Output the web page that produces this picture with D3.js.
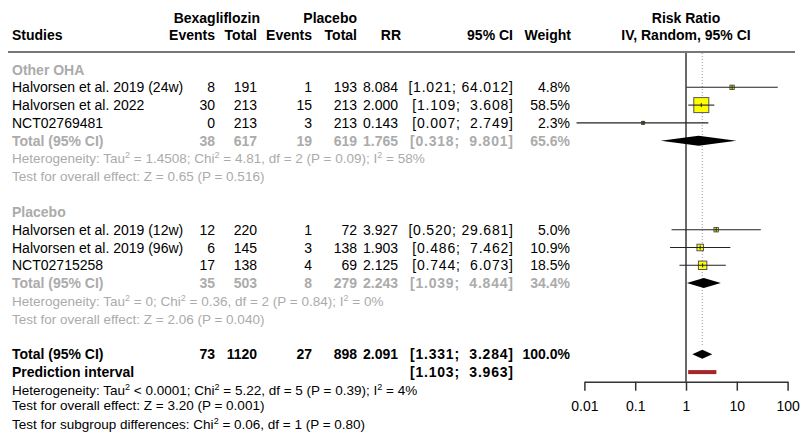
<!DOCTYPE html>
<html><head><meta charset="utf-8">
<script src="https://cdn.jsdelivr.net/npm/d3@7"></script>
<style>
html,body{margin:0;padding:0;background:#fff;}
svg text{font-family:"Liberation Sans",Arial,Helvetica,sans-serif;white-space:pre;}
</style></head>
<body>
<svg id="chart" width="800" height="435"></svg>
<script>
// ---- data ----
const groups = ["Other OHA", "Placebo"];
const studies = ["Halvorsen et al. 2019 (24w)", "Halvorsen et al. 2022", "NCT02769481",
                 "Halvorsen et al. 2019 (12w)", "Halvorsen et al. 2019 (96w)", "NCT02715258"];
const studyGroup = [0, 0, 0, 1, 1, 1];
const eventsE = [8, 30, 0, 12, 6, 17];
const totalE  = [191, 213, 213, 220, 145, 138];
const eventsC = [1, 15, 3, 1, 3, 4];
const totalC  = [193, 213, 213, 72, 138, 69];
const rr      = [8.084, 2.000, 0.143, 3.927, 1.903, 2.125];
const lower   = [1.021, 1.109, 0.007, 0.520, 0.486, 0.744];
const upper   = [64.012, 3.608, 2.749, 29.681, 7.462, 6.073];
const weight  = [4.8, 58.5, 2.3, 5.0, 10.9, 18.5];

const subEventsE = [38, 35], subTotalE = [617, 503], subEventsC = [19, 8], subTotalC = [619, 279];
const subRR = [1.765, 2.243], subLower = [0.318, 1.039], subUpper = [9.801, 4.844], subWeight = [65.6, 34.4];
const subHet = ["Heterogeneity: Tau^2 = 1.4508; Chi^2 = 4.81, df = 2 (P = 0.09); I^2 = 58%",
                "Heterogeneity: Tau^2 = 0; Chi^2 = 0.36, df = 2 (P = 0.84); I^2 = 0%"];
const subTest = ["Test for overall effect: Z = 0.65 (P = 0.516)",
                 "Test for overall effect: Z = 2.06 (P = 0.040)"];

const totEventsE = 73, totTotalE = 1120, totEventsC = 27, totTotalC = 898;
const totRR = 2.091, totLower = 1.331, totUpper = 3.284, totWeight = 100.0;
const predLower = 1.103, predUpper = 3.963;
const totHet = "Heterogeneity: Tau^2 < 0.0001; Chi^2 = 5.22, df = 5 (P = 0.39); I^2 = 4%";
const totTest = "Test for overall effect: Z = 3.20 (P = 0.001)";
const subgroupTest = "Test for subgroup differences: Chi^2 = 0.06, df = 1 (P = 0.80)";

const axisTicks = [0.01, 0.1, 1, 10, 100];
const axisTickLabels = ["0.01", "0.1", "1", "10", "100"];

// ---- layout ----
const svg = d3.select("#chart");
const x = d3.scaleLog().domain([0.01, 100]).range([584.4, 787.6]);
const rowY = i => 69.5 + 17.8 * i;
const side = d3.scaleSqrt().domain([0, 58.5]).range([0, 15]);
const GREY = "#ababab";
const FS = 14;

const col = {study: 12, evE: 215, totE: 257, evC: 312, totC: 357, rr: 398, ci: 513, w: 570};

function txt(xp, y, s, opt = {}) {
  const t = svg.append("text")
    .attr("x", xp).attr("y", y).attr("dy", "0.36em")
    .attr("text-anchor", opt.anchor || "start")
    .attr("font-size", opt.size || FS)
    .attr("font-weight", opt.bold ? "bold" : "normal")
    .attr("fill", opt.color || "#000")
    .text(s);
  if (opt.ls) t.attr("letter-spacing", opt.ls);
  return t;
}
function supText(xp, y, s, opt = {}) {
  const t = svg.append("text").attr("x", xp).attr("y", y).attr("dy", "0.36em")
    .attr("font-size", opt.size || 13.5).attr("fill", opt.color || "#000");
  const parts = s.split("^2");
  parts.forEach((p, i) => {
    if (i > 0) {
      t.append("tspan").attr("dy", -5).attr("font-size", 9).text("2");
      t.append("tspan").attr("dy", 5).text(p);
    } else t.append("tspan").text(p);
  });
}
const fmt3 = d3.format(".3f");
const NB = "\u00A0";
const padLeft = (s, w) => NB.repeat(Math.max(0, w - s.length)) + s;
function ciRow(y, lo, up, opt) {
  const s = "[" + padLeft(fmt3(lo), 5) + ";" + NB + padLeft(fmt3(up), 6) + "]";
  txt(col.ci + 0.8, y, s, Object.assign({anchor: "end", ls: 0.8}, opt));
}
function numRow(y, vals, opt) {
  const keys = ["evE", "totE", "evC", "totC", "rr"];
  vals.forEach((v, i) => { if (v !== null) txt(col[keys[i]], y, v, Object.assign({anchor: "end"}, opt)); });
}

// ---- header ----
txt(260, 17.5, "Bexagliflozin", {anchor: "end", bold: true});
txt(357, 17.5, "Placebo", {anchor: "end", bold: true});
txt(col.study, 35, "Studies", {bold: true});
txt(col.evE, 35, "Events", {anchor: "end", bold: true});
txt(col.totE, 35, "Total", {anchor: "end", bold: true});
txt(col.evC, 35, "Events", {anchor: "end", bold: true});
txt(col.totC, 35, "Total", {anchor: "end", bold: true});
txt(401, 35, "RR", {anchor: "end", bold: true});
txt(col.ci, 35, "95% CI", {anchor: "end", bold: true});
txt(col.w + 1, 35, "Weight", {anchor: "end", bold: true});
txt(x(1), 17.5, "Risk Ratio", {anchor: "middle", bold: true});
txt(x(1), 35, "IV, Random, 95% CI", {anchor: "middle", bold: true});
svg.append("line").attr("x1", 8).attr("x2", 795).attr("y1", 52).attr("y2", 52)
  .attr("stroke", "#777").attr("stroke-width", 2);

// ---- reference lines ----
const axisY = 381.7;
svg.append("line").attr("x1", x(totRR)).attr("x2", x(totRR)).attr("y1", 53).attr("y2", 347)
  .attr("stroke", "#999").attr("stroke-width", 1).attr("stroke-dasharray", "1,2");
svg.append("line").attr("x1", x(1)).attr("x2", x(1)).attr("y1", 53).attr("y2", axisY)
  .attr("stroke", "#444").attr("stroke-width", 1.6);

// ---- groups ----
function diamond(y, est, lo, up, h, color) {
  const pts = [[x(lo), y], [x(est), y - h / 2], [x(up), y], [x(est), y + h / 2]];
  svg.append("polygon").attr("points", pts.map(p => p.join(",")).join(" ")).attr("fill", color || "#000");
}

groups.forEach((g, gi) => {
  const base = gi * 8;
  txt(col.study, rowY(base), g, {bold: true, color: GREY});
  const idx = studies.map((s, i) => i).filter(i => studyGroup[i] === gi);
  idx.forEach((si, k) => {
    const y = rowY(base + 1 + k);
    txt(col.study, y, studies[si]);
    numRow(y, [eventsE[si], totalE[si], eventsC[si], totalC[si], fmt3(rr[si])], {});
    ciRow(y, lower[si], upper[si], {});
    txt(col.w, y, weight[si].toFixed(1) + "%", {anchor: "end"});
    // marks
    const s = side(weight[si]);
    svg.append("rect").attr("x", x(rr[si]) - s / 2).attr("y", y - s / 2)
      .attr("width", s).attr("height", s)
      .attr("fill", "#ffff00").attr("stroke", "#555").attr("stroke-width", 1);
    svg.append("line").attr("x1", x(lower[si])).attr("x2", x(upper[si])).attr("y1", y).attr("y2", y)
      .attr("stroke", "#222").attr("stroke-width", 1.1);
    svg.append("line").attr("x1", x(rr[si])).attr("x2", x(rr[si])).attr("y1", y - 2).attr("y2", y + 2)
      .attr("stroke", "#222").attr("stroke-width", 1);
  });
  const ty = rowY(base + 4);
  const o = {bold: true, color: GREY};
  txt(col.study, ty, "Total (95% CI)", o);
  numRow(ty, [subEventsE[gi], subTotalE[gi], subEventsC[gi], subTotalC[gi], fmt3(subRR[gi])], o);
  ciRow(ty, subLower[gi], subUpper[gi], o);
  txt(col.w, ty, subWeight[gi].toFixed(1) + "%", Object.assign({anchor: "end"}, o));
  diamond(ty, subRR[gi], subLower[gi], subUpper[gi], 10);
  supText(col.study, rowY(base + 5), subHet[gi], {color: GREY});
  supText(col.study, rowY(base + 6), subTest[gi], {color: GREY});
});

// ---- overall ----
const oy = rowY(16);
txt(col.study, oy, "Total (95% CI)", {bold: true});
numRow(oy, [totEventsE, totTotalE, totEventsC, totTotalC, fmt3(totRR)], {bold: true});
ciRow(oy, totLower, totUpper, {bold: true});
txt(col.w, oy, totWeight.toFixed(1) + "%", {anchor: "end", bold: true});
diamond(oy, totRR, totLower, totUpper, 9);

const py = rowY(17);
txt(col.study, py, "Prediction interval", {bold: true});
ciRow(py, predLower, predUpper, {bold: true});
svg.append("rect").attr("x", x(predLower)).attr("y", py - 2).attr("width", x(predUpper) - x(predLower))
  .attr("height", 4).attr("fill", "#a3272a");

supText(col.study, rowY(18), totHet);
supText(col.study, 405.5, totTest);
supText(col.study, 424.5, subgroupTest);

// ---- axis ----
const axis = d3.axisBottom(x).tickValues(axisTicks).tickFormat((d, i) => axisTickLabels[i])
  .tickSize(9).tickPadding(10).tickSizeOuter(0);
const ag = svg.append("g").attr("transform", `translate(0,${axisY})`).call(axis);
ag.select(".domain").attr("stroke", "#333").attr("stroke-width", 1.5);
ag.selectAll(".tick line").attr("stroke", "#333").attr("stroke-width", 1.5);
ag.selectAll(".tick text").attr("font-size", 14).attr("fill", "#000")
  .attr("font-family", "\"Liberation Sans\",Arial,Helvetica,sans-serif");
</script>
</body></html>
